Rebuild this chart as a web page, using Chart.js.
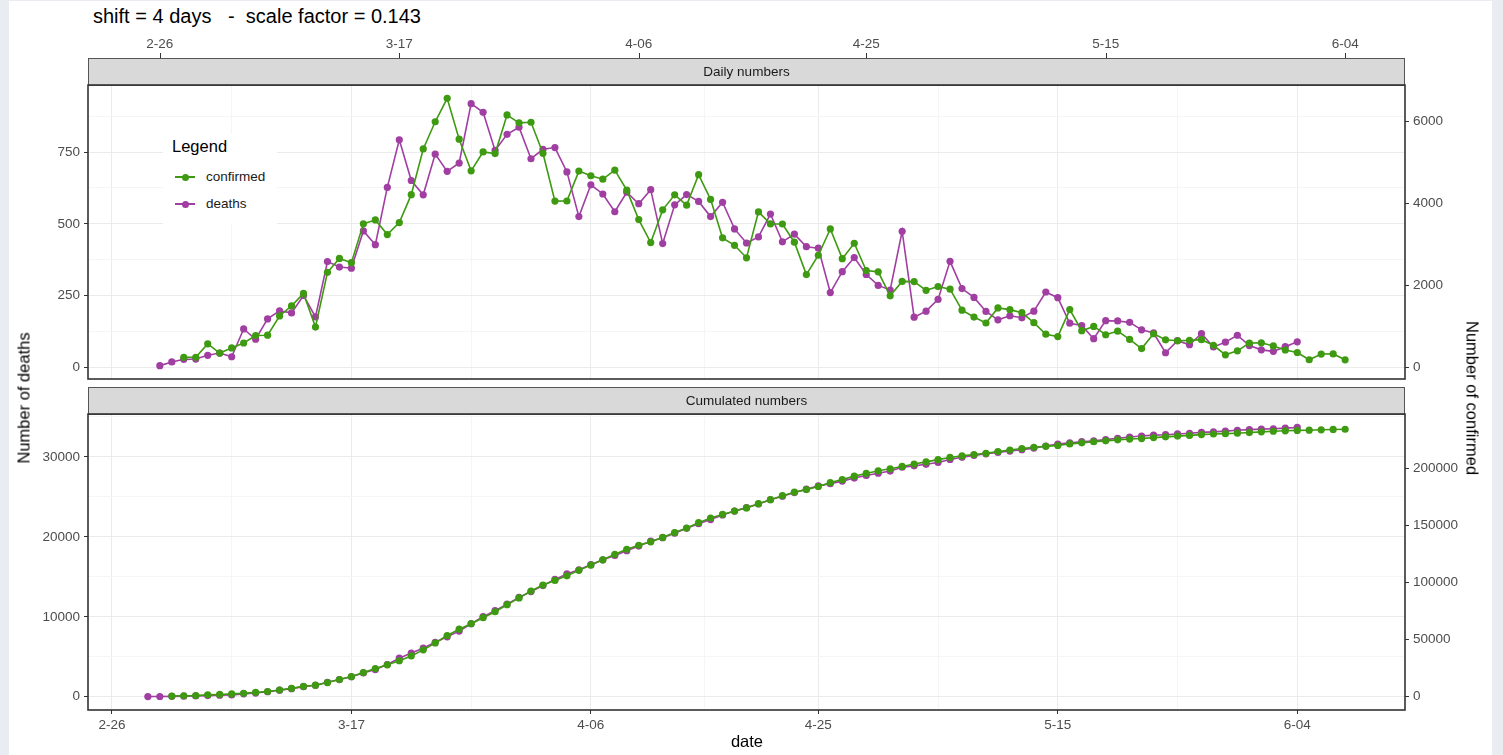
<!DOCTYPE html>
<html>
<head>
<meta charset="utf-8">
<script src="https://cdn.jsdelivr.net/npm/chart.js@4.4.0/dist/chart.umd.min.js"></script>
<style>
  html, body { margin: 0; padding: 0; }
  body { width: 1503px; height: 755px; background: #e9ecf1; position: relative; overflow: hidden;
         font-family: "Liberation Sans", Arial, Helvetica, sans-serif; }
  #card { position: absolute; left: 9px; top: 1px; width: 1483px; height: 754px; background: #fff; }
  canvas { position: absolute; left: 0; }
  #title { position: absolute; left: 93px; top: 5px; font-size: 20px; color: #000; white-space: pre; }
  .axtitle { position: absolute; font-size: 16.5px; color: #000; white-space: nowrap; }
  #legend { position: absolute; left: 163px; top: 134px; width: 114px; height: 90px; background: #fff; }
  #legend .lt { position: absolute; left: 9px; top: 3px; font-size: 16.5px; color: #000; }
  #legend .item { position: absolute; left: 0; width: 114px; height: 20px; }
  #legend .ln { position: absolute; left: 12px; top: 9px; width: 20px; height: 2px; }
  #legend .dot { position: absolute; left: 18.5px; top: 6.5px; width: 7px; height: 7px; border-radius: 50%; }
  #legend .lb { position: absolute; left: 43px; top: 2px; font-size: 13.5px; color: #1a1a1a; }
</style>
</head>
<body>
<div id="card"></div>
<div id="title">shift = 4 days   -  scale factor = 0.143</div>
<canvas id="daily" width="1503" height="383" style="top:0px"></canvas>
<canvas id="cumul" width="1503" height="368" style="top:387px"></canvas>
<div class="axtitle" id="yl" style="left:24px;top:398px;transform:translate(-50%,-50%) rotate(-90deg);">Number of deaths</div>
<div class="axtitle" id="yr" style="left:1472px;top:398px;transform:translate(-50%,-50%) rotate(90deg);">Number of confirmed</div>
<div class="axtitle" id="xl" style="left:747px;top:741px;transform:translate(-50%,-50%);">date</div>
<div id="legend"></div>

<script>
// ---- Italy: deaths and confirmed cases (confirmed shifted by 4 days, scaled by 0.143) ----
const SHIFT_DAYS = 4;
const SCALE_FACTOR = 0.143;

// daily deaths, 2020-03-01 .. 2020-06-04
const deathsDailyStart = '2020-03-01';
const deathsDaily = [
  5, 18, 27, 28, 41, 49, 36, 133, 97, 168, 196, 189, 250, 175, 368, 349, 345, 475, 427, 627,
  793, 651, 601, 743, 683, 712, 919, 889, 756, 812, 837,
  727, 760, 766, 681, 525, 636, 604, 542, 610, 570, 619, 431, 566, 602, 578, 525, 575, 482, 433,
  454, 534, 437, 464, 420, 415, 260, 333, 382, 323, 285,
  269, 474, 174, 195, 236, 369, 274, 243, 194, 165, 179, 172, 195, 262, 242, 153, 145, 99, 162,
  161, 156, 130, 119, 50, 92, 78, 117, 70, 87, 111, 75,
  60, 55, 71, 88
];

// daily confirmed cases, 2020-02-28 .. 2020-06-04 (reporting dates)
const confirmedDailyStart = '2020-02-28';
const confirmedDaily = [
  238, 240,
  566, 342, 466, 587, 769, 778, 1247, 1492, 1797, 977, 2313, 2651, 2547, 3497, 3590, 3233, 3526, 4207,
  5322, 5986, 6557, 5560, 4789, 5249, 5210, 6153, 5959, 5974, 5217, 4050, 4053,
  4782, 4668, 4585, 4805, 4316, 3599, 3039, 3836, 4204, 3951, 4694, 4092, 3153, 2972, 2667, 3786,
  3493, 3491, 3047, 2256, 2729, 3370, 2646, 3021, 2357, 2324, 1739, 2091, 2086, 1872,
  1965, 1900, 1389, 1221, 1075, 1444, 1401, 1327, 1083, 802, 744, 1402, 888, 992, 789, 875,
  675, 451, 813, 665, 642, 652, 669, 531, 300, 397, 584, 593, 516, 416, 355,
  178, 318, 321, 177
];

// cumulated deaths, 2020-02-29 .. 2020-06-04
const deathsCumulStart = '2020-02-29';
const deathsCumul = [
  29,
  34, 52, 79, 107, 148, 197, 233, 366, 463, 631, 827, 1016, 1266, 1441, 1809, 2158, 2503, 2978,
  3405, 4032, 4825, 5476, 6077, 6820, 7503, 8215, 9134, 10023, 10779, 11591, 12428,
  13155, 13915, 14681, 15362, 15887, 16523, 17127, 17669, 18279, 18849, 19468, 19899, 20465,
  21067, 21645, 22170, 22745, 23227, 23660, 24114, 24648, 25085, 25549, 25969, 26384, 26644,
  26977, 27359, 27682, 27967,
  28236, 28710, 28884, 29079, 29315, 29684, 29958, 30201, 30395, 30560, 30739, 30911, 31106,
  31368, 31610, 31763, 31908, 32007, 32169, 32330, 32486, 32616, 32735, 32785, 32877, 32955,
  33072, 33142, 33229, 33340, 33415,
  33475, 33530, 33601, 33689
];

// cumulated confirmed cases, 2020-02-27 .. 2020-06-04 (reporting dates)
const confirmedCumulStart = '2020-02-27';
const confirmedCumul = [
  650, 888, 1128,
  1694, 2036, 2502, 3089, 3858, 4636, 5883, 7375, 9172, 10149, 12462, 15113, 17660, 21157, 24747,
  27980, 31506, 35713, 41035, 47021, 53578, 59138, 63927, 69176, 74386, 80539, 86498, 92472,
  97689, 101739, 105792,
  110574, 115242, 119827, 124632, 128948, 132547, 135586, 139422, 143626, 147577, 152271, 156363,
  159516, 162488, 165155, 168941, 172434, 175925, 178972, 181228, 183957, 187327, 189973, 192994,
  195351, 197675, 199414, 201505, 203591, 205463,
  207428, 209328, 210717, 211938, 213013, 214457, 215858, 217185, 218268, 219070, 219814, 221216,
  222104, 223096, 223885, 224760, 225435, 225886, 226699, 227364, 228006, 228658, 229327, 229858,
  230158, 230555, 231139, 231732, 232248, 232664, 232997,
  233197, 233515, 233836, 234013
];

// axis breaks
const dateTicks = ['2020-02-26', '2020-03-17', '2020-04-06', '2020-04-25', '2020-05-15', '2020-06-04'];
const deathsDailyTicks = [0, 250, 500, 750];
const confirmedDailyTicks = [0, 2000, 4000, 6000];
const deathsCumulTicks = [0, 10000, 20000, 30000];
const confirmedCumulTicks = [0, 50000, 100000, 150000, 200000];

// ---- helpers ----
const FONT = '"Liberation Sans", Arial, Helvetica, sans-serif';
const GREEN = '#3e9a10';
const PURPLE = '#a03ea2';
const TICK_TEXT = '#4d4d4d';
const GRID_MAJOR = '#ebebeb';
const GRID_MINOR = '#f5f5f5';
const DAY0 = Date.UTC(2020, 1, 26);
const MS_DAY = 86400000;

function dayOf(iso) {
  const [y, m, d] = iso.split('-').map(Number);
  return Math.round((Date.UTC(y, m - 1, d) - DAY0) / MS_DAY);
}
function shortDate(iso) {
  const [, m, d] = iso.split('-');
  return Number(m) + '-' + d;
}
function points(values, startIso, shift) {
  const s = dayOf(startIso) + shift;
  return values.map((v, i) => ({ x: s + i, y: v }));
}
function midpoints(br) {
  const out = [];
  for (let i = 0; i + 1 < br.length; i++) out.push((br[i] + br[i + 1]) / 2);
  const step0 = br[1] - br[0], stepN = br[br.length - 1] - br[br.length - 2];
  out.unshift(br[0] - step0 / 2);
  out.push(br[br.length - 1] + stepN / 2);
  return out;
}
function expand(vals) {
  const lo = Math.min(...vals), hi = Math.max(...vals), p = (hi - lo) * 0.05;
  return [lo - p, hi + p];
}
function noPad(s) { s.paddingTop = 0; s.paddingBottom = 0; s.paddingLeft = 0; s.paddingRight = 0; }

const dailyDeathsPts = points(deathsDaily, deathsDailyStart, 0);
const dailyConfPts = points(confirmedDaily, confirmedDailyStart, SHIFT_DAYS);
const cumDeathsPts = points(deathsCumul, deathsCumulStart, 0);
const cumConfPts = points(confirmedCumul, confirmedCumulStart, SHIFT_DAYS);

// shared date range of both panels
const [xMin, xMax] = expand([...dailyDeathsPts, ...dailyConfPts, ...cumDeathsPts, ...cumConfPts].map(p => p.x));

// y ranges in "deaths" units; the confirmed axis is the same range divided by the scale factor
const [dLo, dHi] = expand([...deathsDaily, ...confirmedDaily.map(v => v * SCALE_FACTOR)]);
const [cLo, cHi] = expand([...deathsCumul, ...confirmedCumul.map(v => v * SCALE_FACTOR)]);

const xMajor = dateTicks.map(dayOf);
const xMinor = midpoints(xMajor).filter(v => v > xMin && v < xMax);
const xGridVals = [...xMajor, ...xMinor].sort((a, b) => a - b);

const tickFont = { family: FONT, size: 13.5 };

function xScale(showLabels, fitHeight) {
  return {
    type: 'linear', position: 'bottom', min: xMin, max: xMax,
    afterBuildTicks: s => { s.ticks = xGridVals.map(v => ({ value: v })); },
    ticks: {
      display: showLabels, autoSkip: false, maxRotation: 0, padding: 3,
      color: TICK_TEXT, font: tickFont,
      callback: v => { const k = xMajor.indexOf(v); return k >= 0 ? shortDate(dateTicks[k]) : ''; }
    },
    grid: {
      drawTicks: showLabels, tickLength: 4, lineWidth: 1,
      color: c => (c.tick && xMajor.includes(c.tick.value)) ? GRID_MAJOR : GRID_MINOR,
      tickColor: c => (c.tick && xMajor.includes(c.tick.value)) ? '#333333' : 'rgba(0,0,0,0)'
    },
    border: { display: false },
    afterFit: s => { s.height = fitHeight; noPad(s); }
  };
}

function xTopScale() {
  const vals = xMajor.map(v => v + SHIFT_DAYS);
  return {
    type: 'linear', position: 'top', min: xMin, max: xMax,
    afterBuildTicks: s => { s.ticks = vals.map(v => ({ value: v })); },
    ticks: {
      autoSkip: false, maxRotation: 0, padding: 33, color: TICK_TEXT, font: tickFont,
      callback: v => { const k = vals.indexOf(v); return k >= 0 ? shortDate(dateTicks[k]) : ''; }
    },
    grid: { drawOnChartArea: false, drawTicks: false },
    border: { display: false },
    afterFit: s => { s.height = 85; noPad(s); }
  };
}

function yLeft(breaks, lo, hi) {
  const minors = midpoints(breaks).filter(v => v > lo && v < hi);
  const all = [...breaks, ...minors].sort((a, b) => a - b);
  return {
    type: 'linear', position: 'left', min: lo, max: hi,
    afterBuildTicks: s => { s.ticks = all.map(v => ({ value: v })); },
    ticks: { autoSkip: false, padding: 4, color: TICK_TEXT, font: tickFont,
             callback: v => breaks.includes(v) ? String(v) : '' },
    grid: {
      lineWidth: 1, drawTicks: true, tickLength: 4,
      color: c => (c.tick && breaks.includes(c.tick.value)) ? GRID_MAJOR : GRID_MINOR,
      tickColor: c => (c.tick && breaks.includes(c.tick.value)) ? '#333333' : 'rgba(0,0,0,0)'
    },
    border: { display: false },
    afterFit: s => { s.width = 88; noPad(s); }
  };
}

function yRight(breaks, lo, hi) {
  return {
    type: 'linear', position: 'right', min: lo / SCALE_FACTOR, max: hi / SCALE_FACTOR,
    afterBuildTicks: s => { s.ticks = breaks.map(v => ({ value: v })); },
    ticks: { autoSkip: false, padding: 4, color: TICK_TEXT, font: tickFont, callback: v => String(v) },
    grid: { drawOnChartArea: false, drawTicks: true, tickLength: 4, tickColor: '#333333' },
    border: { display: false },
    afterFit: s => { s.width = 98; noPad(s); }
  };
}

// facet strip, panel frame and the tick marks of the top date axis
const panelDecor = {
  id: 'panelDecor',
  afterDraw(chart, args, opts) {
    const { ctx, chartArea: a } = chart;
    const h = 27;
    ctx.save();
    ctx.fillStyle = '#d9d9d9';
    ctx.fillRect(a.left, a.top - h, a.right - a.left, h);
    ctx.strokeStyle = '#555555';
    ctx.lineWidth = 1;
    ctx.strokeRect(a.left + 0.5, a.top - h + 0.5, a.right - a.left - 1, h);
    ctx.fillStyle = '#1a1a1a';
    ctx.font = '13.5px ' + FONT;
    ctx.textAlign = 'center';
    ctx.textBaseline = 'middle';
    ctx.fillText(opts.text, (a.left + a.right) / 2, a.top - h / 2 + 1);
    ctx.strokeStyle = '#333333';
    ctx.lineWidth = 1.6;
    ctx.strokeRect(a.left, a.top, a.right - a.left, a.bottom - a.top);
    const top = chart.scales.x2;
    if (top) {
      ctx.lineWidth = 1;
      ctx.strokeStyle = '#333333';
      top.ticks.forEach(t => {
        const x = Math.round(top.getPixelForValue(t.value)) + 0.5;
        ctx.beginPath();
        ctx.moveTo(x, a.top - h - 5);
        ctx.lineTo(x, a.top - h);
        ctx.stroke();
      });
    }
    ctx.restore();
  }
};

function series(label, data, color, yAxisID, order) {
  return {
    label, data, yAxisID, xAxisID: 'x', order,
    borderColor: color, backgroundColor: color,
    pointBackgroundColor: color, pointBorderWidth: 0, pointRadius: 3.6,
    borderWidth: 1.6, tension: 0, fill: false
  };
}

const common = {
  responsive: false, maintainAspectRatio: false, animation: false,
  plugins: { legend: { display: false }, tooltip: { enabled: false } }
};

new Chart(document.getElementById('daily'), {
  type: 'line',
  data: { datasets: [
    series('confirmed', dailyConfPts, GREEN, 'y2', 0),
    series('deaths', dailyDeathsPts, PURPLE, 'y', 1)
  ] },
  options: Object.assign({}, common, {
    layout: { padding: 0 },
    plugins: Object.assign({}, common.plugins, { panelDecor: { text: 'Daily numbers' } }),
    scales: {
      x: xScale(false, 4),
      x2: xTopScale(),
      y: yLeft(deathsDailyTicks, dLo, dHi),
      y2: yRight(confirmedDailyTicks, dLo, dHi)
    }
  }),
  plugins: [panelDecor]
});

new Chart(document.getElementById('cumul'), {
  type: 'line',
  data: { datasets: [
    series('confirmed', cumConfPts, GREEN, 'y2', 0),
    series('deaths', cumDeathsPts, PURPLE, 'y', 1)
  ] },
  options: Object.assign({}, common, {
    layout: { padding: { top: 27 } },
    plugins: Object.assign({}, common.plugins, { panelDecor: { text: 'Cumulated numbers' } }),
    scales: {
      x: xScale(true, 45),
      y: yLeft(deathsCumulTicks, cLo, cHi),
      y2: yRight(confirmedCumulTicks, cLo, cHi)
    }
  }),
  plugins: [panelDecor]
});

// legend
const legendEl = document.getElementById('legend');
legendEl.innerHTML = '<div class="lt">Legend</div>';
[['confirmed', GREEN, 33], ['deaths', PURPLE, 60]].forEach(([name, color, top]) => {
  const it = document.createElement('div');
  it.className = 'item';
  it.style.top = top + 'px';
  it.innerHTML = '<div class="ln" style="background:' + color + '"></div>' +
                 '<div class="dot" style="background:' + color + '"></div>' +
                 '<div class="lb">' + name + '</div>';
  legendEl.appendChild(it);
});
</script>
</body>
</html>
